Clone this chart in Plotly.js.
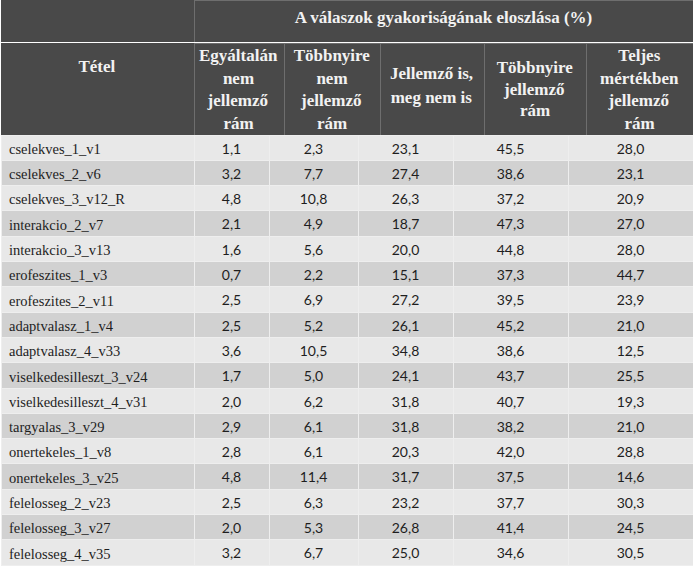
<!DOCTYPE html>
<html><head><meta charset="utf-8">
<script src="https://cdn.plot.ly/plotly-3.0.1.min.js"></script>
<style>html,body{margin:0;padding:0;background:#fff}#chart{width:693px;height:568px}</style>
</head><body><div id="chart"></div>
<script>
const spanTitle = 'A válaszok gyakoriságának eloszlása (%)';
const itemHeader = 'Tétel';
const subHeaders = [
  ['Egyáltalán', 'nem', 'jellemző', 'rám'],
  ['Többnyire', 'nem', 'jellemző', 'rám'],
  ['Jellemző is,', 'meg nem is'],
  ['Többnyire', 'jellemző', 'rám'],
  ['Teljes', 'mértékben', 'jellemző', 'rám']
];
const items = ['cselekves_1_v1','cselekves_2_v6','cselekves_3_v12_R','interakcio_2_v7','interakcio_3_v13','erofeszites_1_v3','erofeszites_2_v11','adaptvalasz_1_v4','adaptvalasz_4_v33','viselkedesilleszt_3_v24','viselkedesilleszt_4_v31','targyalas_3_v29','onertekeles_1_v8','onertekeles_3_v25','felelosseg_2_v23','felelosseg_3_v27','felelosseg_4_v35'];
const egyaltalan = [1.1,3.2,4.8,2.1,1.6,0.7,2.5,2.5,3.6,1.7,2.0,2.9,2.8,4.8,2.5,2.0,3.2];
const tobbnyireNem = [2.3,7.7,10.8,4.9,5.6,2.2,6.9,5.2,10.5,5.0,6.2,6.1,6.1,11.4,6.3,5.3,6.7];
const jellemzoIsNemIs = [23.1,27.4,26.3,18.7,20.0,15.1,27.2,26.1,34.8,24.1,31.8,31.8,20.3,31.7,23.2,26.8,25.0];
const tobbnyireJellemzo = [45.5,38.6,37.2,47.3,44.8,37.3,39.5,45.2,38.6,43.7,40.7,38.2,42.0,37.5,37.7,41.4,34.6];
const teljesen = [28.0,23.1,20.9,27.0,28.0,44.7,23.9,21.0,12.5,25.5,19.3,21.0,28.8,14.6,30.3,24.5,30.5];

const W = 693, H = 568;
const fmt = v => v.toFixed(1).replace('.', ',');
const dark = '#494949', hdrLine = '#6e6e6e', hdrText = '#f2f2f2';
const clear = 'rgba(0,0,0,0)';
const xL = 1;
const topBandH = 43, headerH = 135;
const serif = 'Liberation Serif, Times New Roman, serif';
const sans = 'Lato, sans-serif';
const px = v => v / W;
const py = v => Math.max(0, Math.min(1, 1 - v / H));

// header column edges (px) and data column edges (px)
const hdrEdges = [xL, 194, 284, 380, 484, 586, W];
const dataEdges = [xL, 194, 269, 358, 453, 568, W];
const widths = e => e.slice(1).map((v, i) => v - e[i]);

const traces = [];

// data table (first row used as the table's header row so no empty header shows)
const cols = [items, egyaltalan.map(fmt), tobbnyireNem.map(fmt), jellemzoIsNemIs.map(fmt), tobbnyireJellemzo.map(fmt), teljesen.map(fmt)];
const rowFill = items.slice(1).map((_, i) => i % 2 === 0 ? '#d1d1d1' : '#e8e8e8');
const families = [serif, sans, sans, sans, sans, sans];
const sizes = [14.5, 14, 14, 14, 14, 14];
const aligns = ['left', 'center', 'center', 'center', 'center', 'center'];
traces.push({
  type: 'table',
  domain: {x: [px(xL), 1], y: [0, py(headerH)]},
  columnwidth: widths(dataEdges),
  header: {
    values: cols.map(c => c[0]),
    height: 25.3,
    fill: {color: '#e8e8e8'},
    line: {color: '#eeeeee', width: 1},
    align: aligns,
    font: {family: families, size: sizes, color: '#1e1e1e'}
  },
  cells: {
    values: cols.map(c => c.slice(1)),
    height: 25.3,
    fill: {color: [rowFill]},
    line: {color: '#eeeeee', width: 1},
    align: aligns,
    font: {family: families, size: sizes, color: '#1e1e1e'}
  }
});

// top band with spanning title
traces.push({
  type: 'table',
  domain: {x: [px(xL), 1], y: [py(topBandH), 1]},
  columnwidth: [194 - xL, W - 194],
  header: {
    values: ['', '<b>' + spanTitle + '</b>'],
    height: topBandH,
    fill: {color: dark},
    line: {color: [dark, hdrLine], width: 1},
    align: 'center',
    font: {family: serif, size: 17, color: hdrText}
  },
  cells: {values: [[], []]}
});

// sub-header base (fills and lines only)
traces.push({
  type: 'table',
  domain: {x: [px(xL), 1], y: [py(headerH), py(topBandH)]},
  columnwidth: widths(hdrEdges),
  header: {
    values: ['', '', '', '', '', ''],
    height: headerH - topBandH,
    fill: {color: dark},
    line: {color: [dark, hdrLine, hdrLine, hdrLine, hdrLine, hdrLine], width: 1},
    align: 'center',
    font: {family: serif, size: 17, color: hdrText}
  },
  cells: {values: [[], [], [], [], [], []]}
});

// header texts: every line is its own transparent one-cell table, so each line is centred
const hdrLines = [[itemHeader]].concat(subHeaders);
const firstCenters = [66, 55, 55, 73, 67, 55];
const lineSteps = [22.7, 22.7, 22.7, 24, 21.5, 22.7];
hdrLines.forEach((lines, i) => {
  lines.forEach((line, j) => {
    const top = firstCenters[i] - 17 + j * lineSteps[i];
    traces.push({
      type: 'table',
      domain: {x: [px(hdrEdges[i]), px(hdrEdges[i + 1])], y: [py(top + 42), py(top)]},
      columnwidth: [1],
      header: {
        values: ['<b>' + line.replace(/ /g, '\u00a0') + '</b>'],
        height: 20,
        fill: {color: clear},
        line: {color: clear, width: 0},
        align: 'center',
        font: {family: serif, size: 17, color: hdrText}
      },
      cells: {values: [[]]}
    });
  });
});

Plotly.newPlot('chart', traces, {
  width: W, height: H,
  margin: {l: 0, r: 0, t: 0, b: 0},
  paper_bgcolor: '#ffffff'
}, {displayModeBar: false, staticPlot: true});
</script></body></html>
